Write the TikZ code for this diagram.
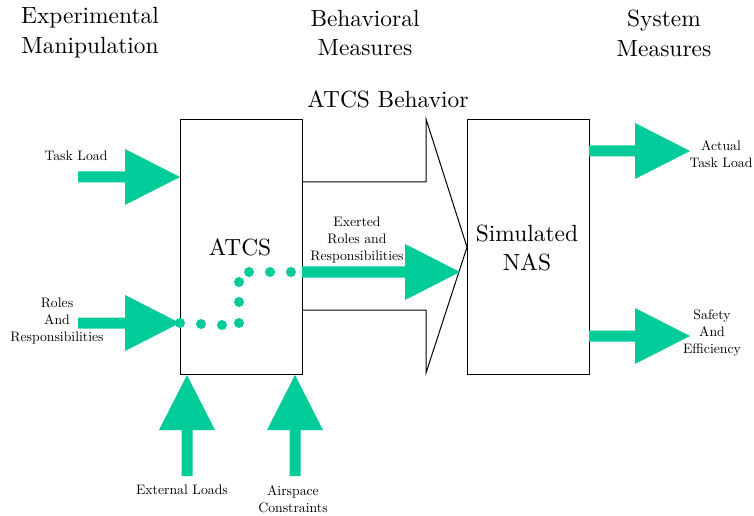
\documentclass[tikz,border=0pt]{standalone}
\usepackage{fontspec}
\newfontfamily\lmten{lmroman10-regular.otf}
\definecolor{aqua}{RGB}{0,204,153}
\begin{document}
\begin{tikzpicture}[x=1bp,y=-1bp,
  box/.style={draw, line width=1.2bp, minimum width=122bp, minimum height=255bp, inner sep=0pt, anchor=north west},
  small/.style={font=\lmten\fontsize{13.8}{17.5}\selectfont, align=center, inner sep=0pt},
  big/.style={font=\lmten\fontsize{23.5}{30}\selectfont, align=center, inner sep=0pt},
  dotmark/.style={fill=aqua, circle, minimum size=10bp, inner sep=0pt},
  outline/.style={draw, line width=1bp, line join=miter},
  pics/fatarrow/.style={code={
    \fill[aqua] (0,0) -- (-55,-28) -- (-55,-5.5) -- (-55-#1,-5.5) -- (-55-#1,5.5) -- (-55,5.5) -- (-55,28) -- cycle;}}]
\useasboundingbox (0,0) rectangle (754,516);

% headers
\node[big] (hexp) at (90,33) {Experimental\\Manipulation};
\node[big] (hbeh) at (365,33) {Behavioral\\Measures};
\node[big] (hsys) at (664,33) {System\\Measures};
\node[big] (behav) at (388,99) {ATCS Behavior};

% boxes
\node[box] (atcs) at (180,119) {};
\node[box] (nas) at (467,119) {};
\node[big] (atcslbl) at (240,247) {ATCS};
\node[big] (naslbl) at (527,248) {Simulated\\NAS};

% big outline arrow
\coordinate (bt1) at (302,182);
\coordinate (bt2) at (426,182);
\coordinate (bt3) at (426,119);
\coordinate (bt4) at (426,373);
\coordinate (bt5) at (426,310);
\coordinate (bt6) at (302,310);
\draw[outline] (bt1) -- (bt2) -- (bt3) -- (nas.west) -- (bt4) -- (bt5) -- (bt6);

% input arrows
\coordinate (tlTip) at (180,177);
\coordinate (rrTip) at (180,323);
\pic at (tlTip) {fatarrow=47};
\pic at (rrTip) {fatarrow=47};
\coordinate (elTip) at (187,375);
\coordinate (acTip) at (295,375);
\pic[rotate=90] at (elTip) {fatarrow=46};
\pic[rotate=90] at (acTip) {fatarrow=46};

% exerted arrow
\coordinate (exTip) at (460,272);
\pic at (exTip) {fatarrow=103};

% output arrows
\coordinate (atTip) at (690,151);
\coordinate (seTip) at (690,336);
\pic at (atTip) {fatarrow=46};
\pic at (seTip) {fatarrow=46};

% dotted path
\foreach \p [count=\i] in {(180,323),(201,324),(222,325),(239,323),(239,302),(239,282),(249,272),(270,272),(291,272)}
  \node[dotmark] (d\i) at \p {};

% labels
\node[small] (ltl) at (76,156) {Task Load};
\node[small] (lrr) at (57,321) {Roles\\And\\Responsibilities};
\node[small] (lex) at (357,240) {Exerted\\Roles and\\Responsibilities};
\node[small] (lat) at (721,154) {Actual\\Task Load};
\node[small] (lse) at (712,333) {Safety\\And\\Efficiency};
\node[small] (lel) at (182,490) {External Loads};
\node[small] (lac) at (293,499) {Airspace\\Constraints};
\end{tikzpicture}
\end{document}
